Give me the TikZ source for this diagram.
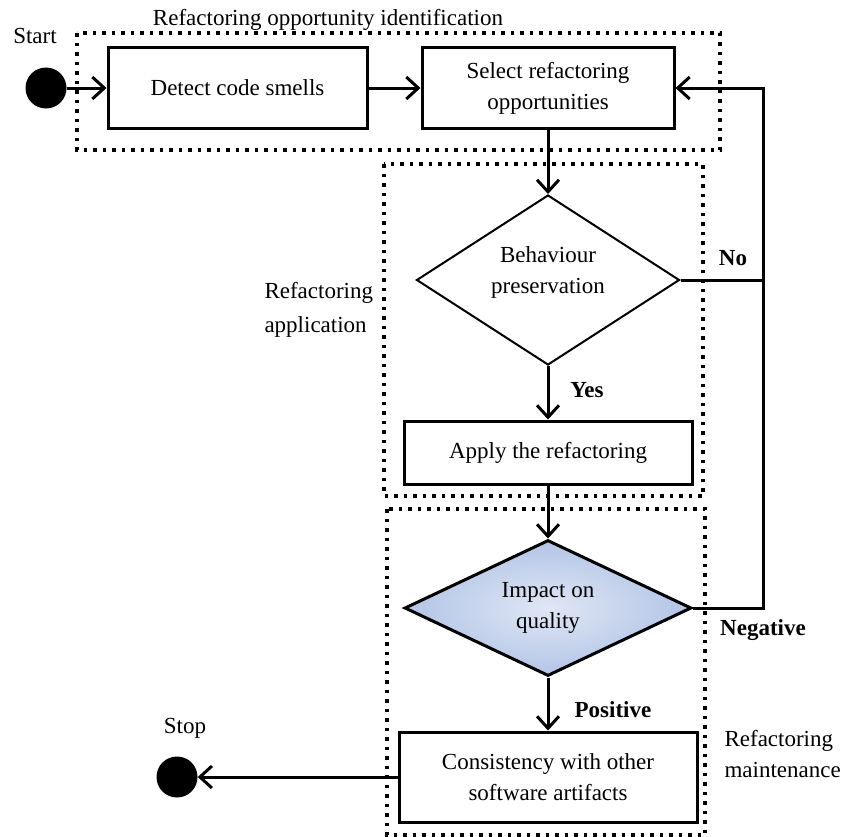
\documentclass[tikz,border=0pt]{standalone}
\usepackage{fontspec}
\setmainfont{Liberation Serif}
\usetikzlibrary{shapes.geometric,arrows.meta}
\definecolor{impactin}{RGB}{224,231,245}
\definecolor{impactout}{RGB}{178,196,230}
\tikzset{every node/.style={font=\fontsize{23}{31}\selectfont},
         stepbox/.style={rectangle,draw,line width=3pt,align=center,inner sep=0pt},
         decision/.style={diamond,draw,aspect=1.55,inner sep=0pt,align=center},
         terminal/.style={circle,fill=black,minimum size=41pt,inner sep=0pt},
         phase/.style={draw,line width=3.5pt,dash pattern=on 3.5pt off 6pt},
         flow/.style={line width=3pt},
         answer/.style={font=\fontsize{23}{31}\selectfont\bfseries},
}

\begin{document}
\begin{tikzpicture}[x=1pt,y=-1pt,
>={Straight Barb[length=12pt,width=22pt]}]

\useasboundingbox (0,0) rectangle (844,836);
% \draw[help lines,step=50] (0,0) grid (844,836);

% phases
\draw[phase] (77,33) rectangle (720,150);
\draw[phase] (384,164) rectangle (703,496);
\draw[phase] (387,509) rectangle (705,835);

\node (start) [terminal] at (46,88) {};
\node (startlabel) at (35,36) {Start};
\node (identlabel) at (328,20) {Refactoring opportunity identification};

\node (detect) [stepbox,minimum width=259pt,minimum height=81pt] at (237.5,88) {Detect code smells};
\node (select) [stepbox,minimum width=252pt,minimum height=81pt] at (548,88) {Select refactoring\\opportunities};

\node (behav) [decision,line width=2pt,minimum width=263pt,minimum height=170pt] at (548,280) {Behaviour\\preservation\\[-12pt]};
\node (applylabel) [anchor=west,align=left] at (261,310) {Refactoring\\[3pt]application};
\node (no) [answer] at (733,258) {No};
\node (yes) [answer] at (587,390) {Yes};
\node (apply) [stepbox,minimum width=288pt,minimum height=63pt] at (548,452.5) {Apply the refactoring};

\node (impact) [decision,line width=3pt,inner color=impactin,outer color=impactout,
                minimum width=287pt,minimum height=136pt] at (548,608) {Impact on\\quality};
\node (negative) [answer] at (763,630) {Negative};
\node (positive) [answer] at (613,710) {Positive};
\node (maintlabel) [anchor=west,align=left] at (721,754) {Refactoring\\maintenance};

\node (consist) [stepbox,minimum width=298pt,minimum height=90pt] at (548,777) {Consistency with other\\software artifacts};
\node (stop) [terminal] at (177,777) {};
\node (stoplabel) at (185,728) {Stop};

\coordinate (loop) at (763,88);

\draw[flow,->] (start) -- (detect);
\draw[flow,->] (detect) -- (select);
\draw[flow,->] (select) -- (behav);
\draw[flow,->] (behav) -- (apply);
\draw[flow,->] (apply) -- (impact);
\draw[flow,->] (impact) -- (consist);
\draw[flow,->] (consist) -- (stop);
\draw[flow] (behav.east) -- (behav.east -| loop);
\draw[flow,->] (impact.east) -| (loop) -- (select);
\end{tikzpicture}
\end{document}
